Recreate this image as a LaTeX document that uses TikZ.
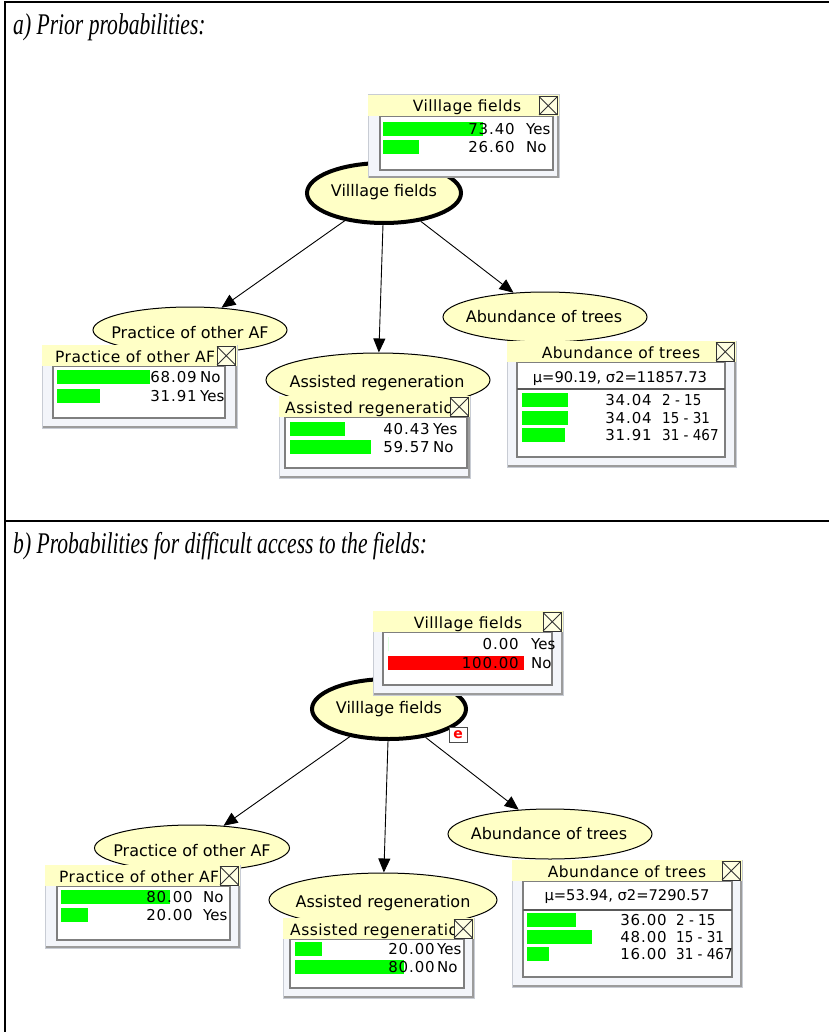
\documentclass[tikz,border=0pt]{standalone}
\usepackage{graphicx}
\usepackage{fontspec}
\setmainfont{Liberation Serif}
\newfontfamily\netfont{DejaVu Sans}
\newfontfamily\netwidefont[LetterSpace=3]{DejaVu Sans}
\newfontfamily\netnumfont[LetterSpace=6]{DejaVu Sans}
\usetikzlibrary{arrows.meta,shapes.geometric}

\definecolor{nodeyellow}{HTML}{FFFFC6}
\definecolor{bodyfill}{HTML}{F3F5FA}
\definecolor{bodyedge}{HTML}{C8CCD4}
\definecolor{shadowgray}{HTML}{9C9C9C}
\definecolor{framegray}{HTML}{7F7F7F}
\definecolor{belgreen}{HTML}{00FF00}
\definecolor{belred}{HTML}{FF0000}

\tikzset{
  bnnode/.style={ellipse, draw=black, fill=nodeyellow, line width=1pt, inner sep=0pt},
  rootnode/.style={bnnode, line width=4pt},
  bnlabel/.style={inner sep=0pt, anchor=base, font=\netfont\fontsize{16}{18}\selectfont},
  bnarrow/.style={line width=0.9pt, -{Triangle[length=14pt,width=12pt]}},
  monbody/.style={fill=bodyfill, draw=bodyedge, line width=1pt},
  monshadow/.style={draw=shadowgray, line width=2.2pt},
  moninner/.style={fill=white, draw=framegray, line width=1.2pt},
  titlebar/.style={fill=nodeyellow},
  montitletext/.style={inner sep=0pt, font=\netwidefont\fontsize{15.5}{17}\selectfont},
  numtext/.style={inner sep=0pt, font=\netnumfont\fontsize{15}{17}\selectfont},
  statetext/.style={inner sep=0pt, font=\netfont\fontsize{15}{17}\selectfont},
  meantext/.style={inner sep=0pt, font=\netfont\fontsize{14.7}{17}\selectfont},
  closebox/.style={fill=nodeyellow!50!white, draw=black!80, line width=1pt},
  sepline/.style={draw=black!65, line width=2pt},
  framerule/.style={line width=2.5pt, draw=black},
  paneltitle/.style={inner sep=0pt, anchor=base west},
  evidence/.style={draw=black!70, fill=white, line width=0.8pt, minimum width=18pt,
    minimum height=15pt, inner sep=0pt, text=belred,
    font=\netfont\bfseries\fontsize{14}{14}\selectfont},
}

% interval label, set slightly narrow
\newcommand\rng[2]{\scalebox{0.9}[1]{#1 - #2}}

% monitor frame: left, top, right, bottom, inner left, inner right, inner bottom
\newcommand\monframe[7]{%
  \path[monbody] (#1,#2) rectangle (#3,#4);
  \draw[monshadow] (#1+1,#4-1) -- (#3-1,#4-1) -- (#3-1,#2+21);
  \path[moninner] (#5,#2+21.5) rectangle (#6,#7);
  \path[titlebar] (#1,#2) rectangle (#3,#2+21);
}
% monitor title (clipped to the bar) and its close box:
% name, left, top, right, placement, text
\newcommand\montitle[6]{%
  \begin{scope}
    \clip (#2,#3) rectangle (#4,#3+21);
    \node[montitletext, #5] (#1) {#6};
  \end{scope}
  \path[closebox] (#4-20,#3+1.5) rectangle (#4-1.5,#3+20);
  \draw[black!80, line width=0.8pt] (#4-20,#3+1.5) -- (#4-1.5,#3+20)
                                    (#4-20,#3+20) -- (#4-1.5,#3+1.5);
}
% one state row: name, bar x, bar top, bar width, colour, value right edge, value, label left edge, label
\newcommand\monrow[9]{%
  \fill[#5] (#2,#3) rectangle ++(#4,14);
  \node[numtext, anchor=base east] (#1-v) at (#6,#3+12.5) {#7};
  \node[statetext, anchor=base west] (#1-l) at (#8,#3+12.5) {#9};
}

\begin{document}
\begin{tikzpicture}[x=1pt,y=-1pt]
\useasboundingbox (0,0) rectangle (829,1032);
\fill[white] (0,0) rectangle (829,1032);

% table rules
\draw[framerule] (5,1032) -- (5,2) -- (829,2);
\draw[framerule] (5,521) -- (829,521);

% ---------- panel a ----------
\node[paneltitle] (ta) at (13,35)
  {\scalebox{0.72}[1]{\fontsize{30}{32}\selectfont\itshape a) Prior probabilities:}};

\node[rootnode, minimum width=154pt, minimum height=60pt] (vfa) at (384,193) {};
\node[bnlabel] (vfa-l) at (384,197) {Villlage fields};
\node[bnnode, minimum width=194pt, minimum height=46pt] (pra) at (190,330) {};
\node[bnlabel] (pra-l) at (190,338) {Practice of other AF};
\node[bnnode, minimum width=224pt, minimum height=54pt] (asa) at (378,380) {};
\node[bnlabel] (asa-l) at (377,387) {Assisted regeneration};
\node[bnnode, minimum width=204pt, minimum height=50pt] (aba) at (545,317) {};
\node[bnlabel] (aba-l) at (544,322) {Abundance of trees};

\draw[bnarrow] (vfa) -- (pra);
\draw[bnarrow] (vfa) -- (asa);
\draw[bnarrow] (vfa) -- (aba);

% Village fields monitor
\monframe{368}{95}{559}{178}{380}{553}{170}
\montitle{vfa-t}{368}{95}{559}{anchor=base, at={(467,112)}}{Villlage fields}
\monrow{vfa-r1}{383}{122}{99.8}{belgreen}{515}{73.40}{526}{Yes}
\monrow{vfa-r2}{383}{140}{36.2}{belgreen}{515}{26.60}{526}{No}

% Practice of other AF monitor
\monframe{42}{345}{237}{428}{53}{225}{418}
\montitle{pra-t}{42}{345}{237}{anchor=base west, at={(55,362)}}{Practice of other AF}
\monrow{pra-r1}{57}{370}{92.6}{belgreen}{197}{68.09}{200}{No}
\monrow{pra-r2}{57}{389}{43.4}{belgreen}{197}{31.91}{200}{Yes}

% Assisted regeneration monitor
\monframe{279}{396}{470}{478}{285}{467}{468}
\montitle{asa-t}{279}{396}{470}{anchor=base west, at={(285,413)}}{Assisted regeneration}
\monrow{asa-r1}{290}{422}{55}{belgreen}{430}{40.43}{433}{Yes}
\monrow{asa-r2}{290}{440}{81}{belgreen}{430}{59.57}{433}{No}

% Abundance of trees monitor
\monframe{507}{341}{736}{467}{517}{725}{457}
\montitle{aba-t}{507}{341}{736}{anchor=base, at={(621,358)}}{Abundance of trees}
\node[meantext, anchor=base] (aba-m) at (620,382) {μ=90.19, σ2=11857.73};
\draw[sepline] (517,389) -- (725,389);
\monrow{aba-r1}{522}{393}{46.3}{belgreen}{652}{34.04}{662}{\rng{2}{15}}
\monrow{aba-r2}{522}{410.5}{46.3}{belgreen}{652}{34.04}{662}{\rng{15}{31}}
\monrow{aba-r3}{522}{428}{43.4}{belgreen}{652}{31.91}{662}{\rng{31}{467}}

% ---------- panel b ----------
\node[paneltitle] (tb) at (13,553)
  {\scalebox{0.72}[1]{\fontsize{30}{32}\selectfont\itshape b) Probabilities for difficult access to the fields:}};

\node[rootnode, minimum width=154pt, minimum height=60pt] (vfb) at (389,709) {};
\node[bnlabel] (vfb-l) at (389,713) {Villlage fields};
\node[evidence] (ev) at (458,734.5) {e};
\node[bnnode, minimum width=195pt, minimum height=46pt] (prb) at (192,848) {};
\node[bnlabel] (prb-l) at (192,856) {Practice of other AF};
\node[bnnode, minimum width=228pt, minimum height=54pt] (asb) at (383,900) {};
\node[bnlabel] (asb-l) at (383,907) {Assisted regeneration};
\node[bnnode, minimum width=204pt, minimum height=50pt] (abb) at (550,834) {};
\node[bnlabel] (abb-l) at (549,839) {Abundance of trees};

\draw[bnarrow] (vfb) -- (prb);
\draw[bnarrow] (vfb) -- (asb);
\draw[bnarrow] (vfb) -- (abb);

% Village fields monitor (evidence set)
\monframe{373}{611}{563}{695}{383}{552}{685}
\montitle{vfb-t}{373}{611}{563}{anchor=base, at={(468,628)}}{Villlage fields}
\monrow{vfb-r1}{388}{637}{0}{belgreen}{519}{0.00}{531}{Yes}
\monrow{vfb-r2}{388}{656}{136}{belred}{519}{100.00}{531}{No}

% Practice of other AF monitor
\monframe{45}{865}{240}{948}{57}{230}{940}
\montitle{prb-t}{45}{865}{240}{anchor=base west, at={(59,882)}}{Practice of other AF}
\monrow{prb-r1}{61}{890}{108.8}{belgreen}{193}{80.00}{203}{No}
\monrow{prb-r2}{61}{908}{27.2}{belgreen}{193}{20.00}{203}{Yes}

% Assisted regeneration monitor
\monframe{283}{918}{474}{998}{290}{464}{988}
\montitle{asb-t}{283}{918}{474}{anchor=base west, at={(290,935)}}{Assisted regeneration}
\monrow{asb-r1}{295}{942}{27.2}{belgreen}{435}{20.00}{437}{Yes}
\monrow{asb-r2}{295}{960}{108.8}{belgreen}{435}{80.00}{437}{No}

% Abundance of trees monitor
\monframe{512}{860}{742}{987}{523}{732}{977}
\montitle{abb-t}{512}{860}{742}{anchor=base, at={(627,877)}}{Abundance of trees}
\node[meantext, anchor=base] (abb-m) at (627,900) {μ=53.94, σ2=7290.57};
\draw[sepline] (523,910) -- (732,910);
\monrow{abb-r1}{527}{913}{49}{belgreen}{667}{36.00}{676}{\rng{2}{15}}
\monrow{abb-r2}{527}{929.5}{65.3}{belgreen}{667}{48.00}{676}{\rng{15}{31}}
\monrow{abb-r3}{527}{947}{21.8}{belgreen}{667}{16.00}{676}{\rng{31}{467}}
\end{tikzpicture}
\end{document}
